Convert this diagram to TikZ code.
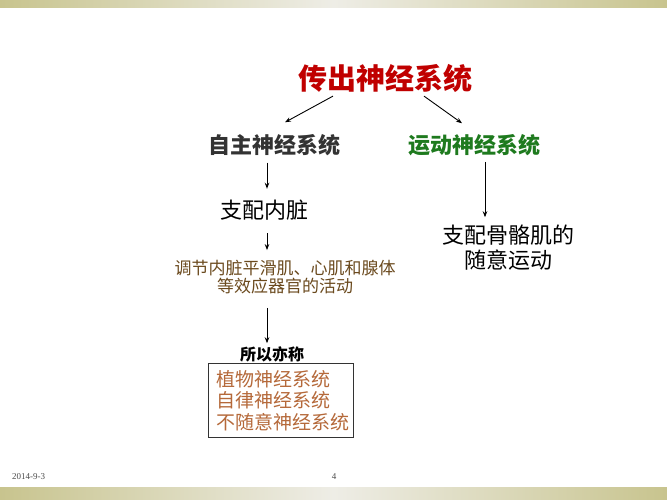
\documentclass[tikz,border=0pt]{standalone}
\usepackage{fontspec}
\usetikzlibrary{arrows.meta,calc}
\newfontfamily\cjk{Noto Sans CJK SC}
\newfontfamily\footfont{Liberation Serif}
\definecolor{barolive}{HTML}{C8C48E}
\definecolor{barlight}{HTML}{EEEDE6}
\definecolor{titlered}{HTML}{C00000}
\definecolor{motorgreen}{HTML}{1E7A1E}
\definecolor{regbrown}{HTML}{6B4A1E}
\definecolor{akabrown}{HTML}{B5693A}
\definecolor{txtgray}{HTML}{333333}
\tikzset{
  lbl/.style={inner sep=0pt, outer sep=0pt, anchor=center, font=\cjk},
  conn/.style={-{Stealth[length=6pt,width=4.5pt]}, line width=0.9pt, black},
  bar/.style={left color=barolive, right color=barolive, middle color=barlight, draw=none},
  foot/.style={inner sep=0pt, font=\footfont\fontsize{9}{10}\selectfont, text=black!70}
}
\begin{document}
\begin{tikzpicture}[x=1pt,y=-1pt]
\useasboundingbox (0,0) rectangle (667,500);
\fill[white] (0,0) rectangle (667,500);
\shade[bar] (0,0) rectangle (667,8);
\shade[bar] (0,487) rectangle (667,500);

\node[lbl, font=\cjk\bfseries\fontsize{29}{32}\selectfont, text=titlered] (title) at (385,78) {传出神经系统};
\node[lbl, font=\cjk\bfseries\fontsize{22}{26}\selectfont, text=txtgray] (auto) at (274,145) {自主神经系统};
\node[lbl, font=\cjk\bfseries\fontsize{22}{26}\selectfont, text=motorgreen] (motor) at (474,145) {运动神经系统};
\node[lbl, font=\cjk\fontsize{22}{26}\selectfont] (visc) at (264,210) {支配内脏};
\node[lbl, align=center, font=\cjk\fontsize{17}{18}\selectfont, text=regbrown] (reg) at (285,277) {调节内脏平滑肌、心肌和腺体\\等效应器官的活动};
\node[lbl, font=\cjk\bfseries\fontsize{16}{18}\selectfont] (aka) at (272,354) {所以亦称};
\node[lbl, align=left, anchor=north west, font=\cjk\fontsize{19}{21.5}\selectfont, text=akabrown] (names) at (216,370) {植物神经系统\\自律神经系统\\不随意神经系统};
\draw[line width=0.8pt, black!80] (208,363) rectangle (353,437);
\node[lbl, align=center, font=\cjk\fontsize{22}{25}\selectfont] (skel) at (508,248) {支配骨骼肌的\\随意运动};

\node[foot, anchor=west] (date) at (12,477) {2014-9-3};
\node[foot] (page) at (334,477) {4};

\draw[conn] ($(title.south)+(-52,4)$) -- ($(auto.north)+(11,-12)$);
\draw[conn] ($(title.south)+(39,4)$) -- ($(motor.north)+(-12,-11)$);
\draw[conn] ($(auto.south)+(-7,7)$) -- ($(visc.north)+(3,-11)$);
\draw[conn] ($(visc.south)+(3,13)$) -- ($(reg.north)+(-18,-10)$);
\draw[conn] ($(reg.south)+(-18,14)$) -- ($(aka.north)+(-5,-3)$);
\draw[conn] ($(motor.south)+(11,6)$) -- ($(skel.north)+(-23,-8)$);
\end{tikzpicture}
\end{document}
